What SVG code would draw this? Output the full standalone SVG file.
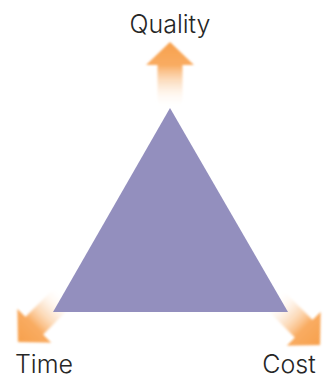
<svg xmlns="http://www.w3.org/2000/svg" width="329" height="379" viewBox="0 0 329 379">
  <style>
    .label { font-family: Inter, "Liberation Sans", Arial, sans-serif; font-weight: 300; font-size: 25px; fill: #262626; text-anchor: middle; }
    .arrow { fill: url(#fade); filter: url(#soft); }
  </style>
  <defs>
    <linearGradient id="fade" x1="0" y1="0" x2="0" y2="1">
      <stop offset="0" stop-color="#f7a04c"/>
      <stop offset="0.35" stop-color="#f9ac62"/>
      <stop offset="1" stop-color="#ffffff" stop-opacity="0"/>
    </linearGradient>
    <filter id="soft" x="-20%" y="-20%" width="140%" height="140%">
      <feGaussianBlur stdDeviation="0.8"/>
    </filter>
    <path id="arr" d="M0,0 L24,23 L12.5,23 L12.5,66 L-12.5,66 L-12.5,23 L-24,23 Z"/>
  </defs>
  <rect width="329" height="379" fill="#ffffff"/>
  <g id="connectors">
    <use href="#arr" class="arrow" transform="translate(170,42)"/>
    <use href="#arr" class="arrow" transform="translate(18,342) rotate(225)"/>
    <use href="#arr" class="arrow" transform="translate(320,345) rotate(135)"/>
  </g>
  <g id="triangle">
    <polygon points="170,108 288,312 53,312" fill="#938fbe"/>
  </g>
  <g id="quality"><text class="label" x="170" y="33">Quality</text></g>
  <g id="time"><text class="label" x="44" y="373">Time</text></g>
  <g id="cost"><text class="label" x="289" y="373">Cost</text></g>
</svg>
